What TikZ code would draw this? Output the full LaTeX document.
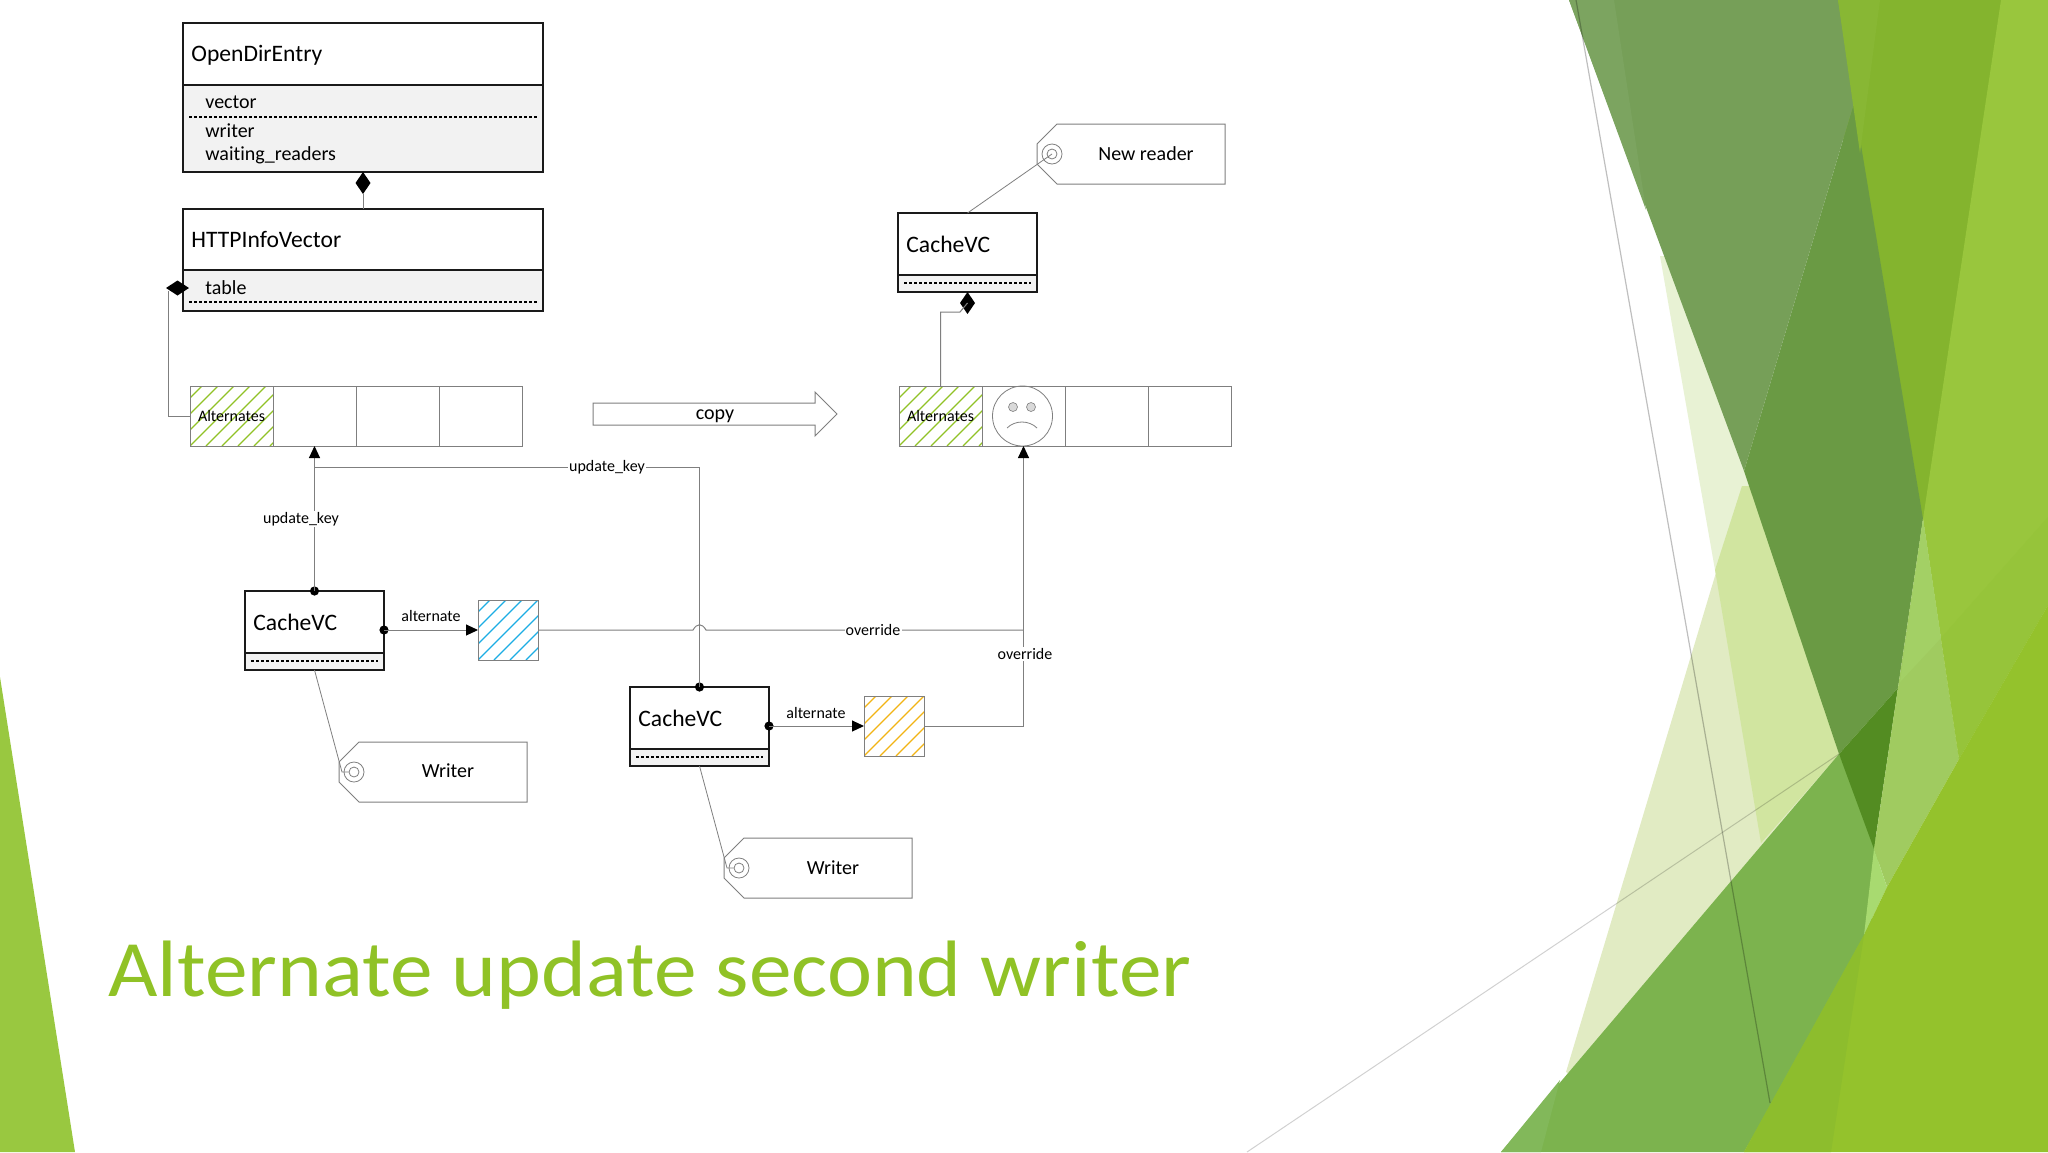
\documentclass[tikz,border=0pt]{standalone}
\usepackage{fontspec}
\setmainfont[Ligatures=NoCommon]{Carlito}
\newfontfamily\titlefont[Ligatures=NoCommon,FakeStretch=1.067]{Carlito}
\usetikzlibrary{arrows.meta,shapes.geometric}
\definecolor{ink}{HTML}{1A1A1A}
\definecolor{wire}{HTML}{7F7F7F}
\definecolor{panel}{HTML}{F2F2F2}
\definecolor{hgreen}{HTML}{90C226}
\definecolor{hblue}{HTML}{1CADE4}
\definecolor{hyellow}{HTML}{F2B414}
\tikzset{
  x=0.5pt,y=-0.5pt,
  umlouter/.style={draw=ink,line width=1pt,fill=panel,inner sep=0pt,outer sep=0pt},
  umltop/.style={draw=ink,line width=1pt,fill=white,inner sep=0pt,outer sep=0pt},
  umltitle/.style={anchor=base west,inner sep=0pt,font=\fontsize{11.8}{14}\selectfont,text=black},
  umlattr/.style={anchor=base west,inner sep=0pt,font=\fontsize{10}{12}\selectfont,text=black},
  umldash/.style={draw=black,line width=0.55pt,dash pattern=on 1.5pt off 1pt},
  cellbox/.style={draw=wire,line width=0.5pt,minimum width=41.5pt,minimum height=30pt,inner sep=0pt,outer sep=0pt},
  hatchbox/.style={draw=wire,line width=0.5pt,minimum width=30pt,minimum height=30pt,inner sep=0pt,outer sep=0pt},
  hatchbase/.style={fill=white,minimum width=#1,minimum height=30pt,inner sep=0pt,outer sep=0pt},
  conn/.style={draw=wire,line width=0.5pt},
  thin conn/.style={draw=wire,line width=0.4pt},
  lbl/.style={fill=white,inner sep=0.6pt,font=\fontsize{8}{9}\selectfont,text=black},
  free lbl/.style={inner sep=0pt,font=\fontsize{8}{9}\selectfont,text=black},
  tagtext/.style={inner sep=0pt,font=\fontsize{10}{12}\selectfont,text=black},
  tagshape/.style={draw=wire,line width=0.5pt,fill=white},
  holeo/.style={circle,draw=wire,line width=0.4pt,minimum size=10pt,inner sep=0pt},
  holei/.style={circle,draw=wire,line width=0.4pt,minimum size=5pt,inner sep=0pt},
  diam/.style={diamond,fill=black,inner sep=0pt,outer sep=0pt},
  dotnode/.style={circle,fill=black,minimum size=4.6pt,inner sep=0pt,outer sep=0pt},
  tip only/.style={-{Triangle[length=6pt,width=5.5pt,black]}},
}
% \hatchcell{x0}{y0}{w}{h}{colour}
\newcommand{\hatchcell}[5]{%
  \begin{scope}
    \clip (#1,#2) rectangle ++(#3,#4);
    \foreach \k in {-6,...,8}{
      \draw[#5,line width=0.6pt] ({#1+\k*16},{#2+#4}) -- ++(#4,-#4);
    }
  \end{scope}}
% \tagoutline{x0}{y0}
\newcommand{\tagoutline}[2]{%
  \draw[tagshape] ({#1+20},#2) -- ({#1+188},#2) -- ({#1+188},{#2+60}) -- ({#1+20},{#2+60})
    -- (#1,{#2+40}) -- (#1,{#2+20}) -- cycle;}
\begin{document}
\begin{tikzpicture}
\useasboundingbox (0,0) rectangle (2048,1152);
\fill[white] (0,0) rectangle (2048,1152);

% --- background facets
\fill[color={rgb,255:red,232;green,242;blue,212}] (1660,256) -- (1715,570) -- (1770,486) -- (1700,256) -- cycle;
\fill[color={rgb,255:red,225;green,235;blue,195}] (1780,486) -- (1742,486) -- (1566,1072) -- (1580,1080) -- (1839,754) -- cycle;
\fill[color={rgb,255:red,209;green,229;blue,160}] (1715,570) -- (1761,843) -- (1839,754) -- (1780,486) -- (1742,486) -- cycle;
\fill[color={rgb,255:red,124;green,179;blue,78}] (1839,754) -- (1880,849) -- (1870,935) -- (1744,1152) -- (1501,1152) -- cycle;
\fill[color={rgb,255:red,130;green,184;blue,90}] (1501,1152) -- (1541,1152) -- (1560,1080) -- cycle;
\fill[color={rgb,255:red,132;green,180;blue,46}] (1838,0) -- (2010,0) -- (1935,519) -- (1900,519) -- (1838,103) -- cycle;
\fill[color={rgb,255:red,106;green,154;blue,68}] (1744,471) -- (1854,103) -- (1923,519) -- (1898,688) -- (1839,754) -- cycle;
\fill[color={rgb,255:red,118;green,159;blue,88}] (1569,0) -- (1838,0) -- (1854,103) -- (1744,471) -- cycle;
\fill[color={rgb,255:red,124;green,164;blue,96}] (1569,0) -- (1614,0) -- (1646,210) -- cycle;
\fill[color={rgb,255:red,83;green,140;blue,34}] (1839,754) -- (1898,688) -- (1874,849) -- cycle;
\fill[color={rgb,255:red,136;green,183;blue,52}] (1838,0) -- (1880,0) -- (1860,153) -- cycle;
\fill[color={rgb,255:red,160;green,203;blue,96}] (1923,519) -- (1959,759) -- (1887,887) -- (1874,849) -- cycle;
\fill[color={rgb,255:red,153;green,198;blue,61}] (2001,0) -- (2048,0) -- (2048,605) -- (1959,759) -- (1923,519) -- cycle;
\fill[color={rgb,255:red,150;green,196;blue,58}] (1941,638) -- (2048,517) -- (2048,605) -- (1959,759) -- cycle;
\fill[color={rgb,255:red,163;green,208;blue,101}] (1923,519) -- (1941,638) -- (1900,682) -- cycle;
\fill[color={rgb,255:red,168;green,218;blue,112}] (1874,849) -- (1887,887) -- (1864,935) -- cycle;
\fill[color={rgb,255:red,148;green,194;blue,44}] (2048,605) -- (2048,1152) -- (1744,1152) -- (1864,935) -- (1887,887) -- (1959,759) -- cycle;
\fill[color={rgb,255:red,141;green,189;blue,45}] (1864,935) -- (1831,1152) -- (1744,1152) -- cycle;
\fill[color={rgb,255:red,153;green,200;blue,64}] (0,677) -- (75,1152) -- (0,1152) -- cycle;
\draw[color=black,opacity=0.25,line width=0.6pt] (1576,0) -- (1770,1103);
\draw[color=black,opacity=0.18,line width=0.5pt] (1247,1152) -- (1839,754);

% --- OpenDirEntry
\node[umlouter,minimum width=180pt,minimum height=74.5pt] (ode) at (363,97.5) {};
\node[umltop,minimum width=180pt,minimum height=31pt] (odehead) at (363,54) {};
\node[umltitle] (odetitle) at (191,61) {OpenDirEntry};
\node[umlattr] (odevector) at (205,108) {vector};
\node[umlattr] (odewriter) at (205,137) {writer};
\node[umlattr] (odewait) at (205,160) {waiting\_readers};
\coordinate (oded1) at (189,117);
\coordinate (oded2) at (538,117);
\draw[umldash] (oded1) -- (oded2);

% --- HTTPInfoVector
\node[umlouter,minimum width=180pt,minimum height=51pt] (hiv) at (363,260) {};
\node[umltop,minimum width=180pt,minimum height=30.5pt] (hivhead) at (363,239.5) {};
\node[umltitle] (hivtitle) at (191,247) {HTTPInfoVector};
\node[umlattr] (hivtable) at (205,294) {table};
\coordinate (hivd1) at (189,302);
\coordinate (hivd2) at (538,302);
\draw[umldash] (hivd1) -- (hivd2);

\node[diam,minimum width=7.5pt,minimum height=11pt] (dmode) at (363,183) {};
\draw[conn] (dmode.south) -- (hivhead.north);

% --- left array
\node[hatchbase=41.5pt] (a1) at (231.5,416) {};
\hatchcell{190}{386}{83}{60}{hgreen}
\node[cellbox] (a1f) at (231.5,416) {};
\node[cellbox] (a2) at (314.5,416) {};
\node[cellbox] (a3) at (397.5,416) {};
\node[cellbox] (a4) at (480.5,416) {};
\node[free lbl] (a1t) at (231.5,416) {Alternates};

\node[diam,minimum width=11.5pt,minimum height=7.5pt] (dmhiv) at (177.5,288) {};
\coordinate (dmhivb) at (168,291);
\draw[conn] (a1f.west) -| (dmhivb);

% --- copy arrow
\coordinate (cp1) at (593,403);
\coordinate (cp2) at (815,403);
\coordinate (cp3) at (815,392);
\coordinate (cp4) at (837,414);
\coordinate (cp5) at (815,436);
\coordinate (cp6) at (815,425);
\coordinate (cp7) at (593,425);
\draw[tagshape] (cp1) -- (cp2) -- (cp3) -- (cp4) -- (cp5) -- (cp6) -- (cp7) -- cycle;
\node[tagtext] (copytext) at (715,416) {copy};

% --- right array
\node[hatchbase=41.5pt] (b1) at (940.5,416) {};
\hatchcell{899}{386}{83}{60}{hgreen}
\node[cellbox] (b1f) at (940.5,416) {};
\node[cellbox] (b2) at (1023.5,416) {};
\node[cellbox] (b3) at (1106.5,416) {};
\node[cellbox] (b4) at (1189.5,416) {};
\node[free lbl] (b1t) at (940.5,416) {Alternates};

% --- smiley
\node[circle,draw=wire,line width=0.4pt,minimum size=30pt,inner sep=0pt] (face) at (1022.5,416) {};
\node[circle,draw=wire,fill=black!15,line width=0.3pt,minimum size=4.5pt,inner sep=0pt] (eyel) at (1013,407) {};
\node[circle,draw=wire,fill=black!15,line width=0.3pt,minimum size=4.5pt,inner sep=0pt] (eyer) at (1031,407) {};
\coordinate (mouthl) at (1007,428);
\coordinate (mouthr) at (1037,428);
\draw[draw=wire,line width=0.4pt] (mouthl) .. controls (1015,420) and (1029,420) .. (mouthr);

% --- top right CacheVC
\node[umlouter,minimum width=69.5pt,minimum height=39.5pt] (cvc) at (967.5,252.5) {};
\node[umltop,minimum width=69.5pt,minimum height=31pt] (cvchead) at (967.5,244) {};
\node[umltitle] (cvctitle) at (906,252) {CacheVC};
\coordinate (cvcd1) at (904,283);
\coordinate (cvcd2) at (1031,283);
\draw[umldash] (cvcd1) -- (cvcd2);
\node[diam,minimum width=7.5pt,minimum height=11pt] (dmc) at (967.5,303) {};
\coordinate (dmcl) at (960,312);
\draw[conn] (b1f.north) |- (dmcl) -- (dmc.center);

% --- New reader tag
\tagoutline{1037}{124}
\node[holeo] (nrh) at (1052,154) {};
\node[holei] (nri) at (1052,154) {};
\node[tagtext] (nrtext) at (1146,154) {New reader};
\draw[thin conn] (cvchead.north) -- (nrh.center);

% --- CacheVC A
\node[umlouter,minimum width=69.5pt,minimum height=39.5pt] (cva) at (314.5,630.5) {};
\node[umltop,minimum width=69.5pt,minimum height=31pt] (cvahead) at (314.5,622) {};
\node[umltitle] (cvatitle) at (253,630) {CacheVC};
\coordinate (cvad1) at (251,661);
\coordinate (cvad2) at (378,661);
\draw[umldash] (cvad1) -- (cvad2);

% --- Blue alternate
\node[hatchbase=30pt] (blue) at (508,630) {};
\hatchcell{478}{600}{60}{60}{hblue}
\node[hatchbox] (bluef) at (508,630) {};

% --- CacheVC B
\node[umlouter,minimum width=69.5pt,minimum height=39.5pt] (cvb) at (699.5,726.5) {};
\node[umltop,minimum width=69.5pt,minimum height=31pt] (cvbhead) at (699.5,718) {};
\node[umltitle] (cvbtitle) at (638,726) {CacheVC};
\coordinate (cvbd1) at (636,757);
\coordinate (cvbd2) at (763,757);
\draw[umldash] (cvbd1) -- (cvbd2);

% --- Yellow alternate
\node[hatchbase=30pt] (yel) at (894,726) {};
\hatchcell{864}{696}{60}{60}{hyellow}
\node[hatchbox] (yelf) at (894,726) {};

% --- connectors
\coordinate (bend) at (314.5,467);
\coordinate (turn) at (699.5,467);
\node[dotnode] (dta) at (cvahead.north) {};
\node[dotnode] (dtb) at (cvbhead.north) {};
\node[dotnode] (dta2) at (cva.east |- blue.west) {};
\node[dotnode] (dtb2) at (cvb.east |- yel.west) {};
\draw[conn,tip only] (dta.center) -- (a2.south);
\node[lbl] (lu1) at (301,519) {update\_key};
\draw[conn] (dtb.center) -- (turn) -- (bend);
\node[lbl] (lu2) at (607,467) {update\_key};
\draw[conn,tip only] (dta2.center) -- (bluef.west);
\node[free lbl] (la1) at (431,616) {alternate};
\draw[conn,tip only] (dtb2.center) -- (yelf.west);
\node[free lbl] (la2) at (816,713) {alternate};
\coordinate (hopl) at (693,630);
\coordinate (hopr) at (706,630);
\coordinate (joint) at (1023.5,630);
\draw[conn] (bluef.east) -- (hopl) .. controls (697,623) and (702,623) .. (hopr) -- (joint);
\node[lbl] (lo1) at (873,630) {override};
\draw[conn,tip only] (yelf.east) -| (b2.south);
\node[lbl] (lo2) at (1025,654) {override};

% --- Writer tags
\tagoutline{339}{742}
\node[holeo] (w1h) at (354,772) {};
\node[holei] (w1i) at (354,772) {};
\node[tagtext] (w1text) at (448,771) {Writer};
\coordinate (w1k) at (342,772);
\draw[thin conn] (cva.south) -- (w1k) -- (w1i.west);
\tagoutline{724}{838}
\node[holeo] (w2h) at (739,868) {};
\node[holei] (w2i) at (739,868) {};
\node[tagtext] (w2text) at (833,868) {Writer};
\coordinate (w2k) at (727,868);
\draw[thin conn] (cvb.south) -- (w2k) -- (w2i.west);

% --- title
\node[anchor=base west,inner sep=0pt,text=hgreen,font=\titlefont\fontsize{40}{44}\selectfont] (ttl) at (108,996) {Alternate update second writer};
\end{tikzpicture}
\end{document}
